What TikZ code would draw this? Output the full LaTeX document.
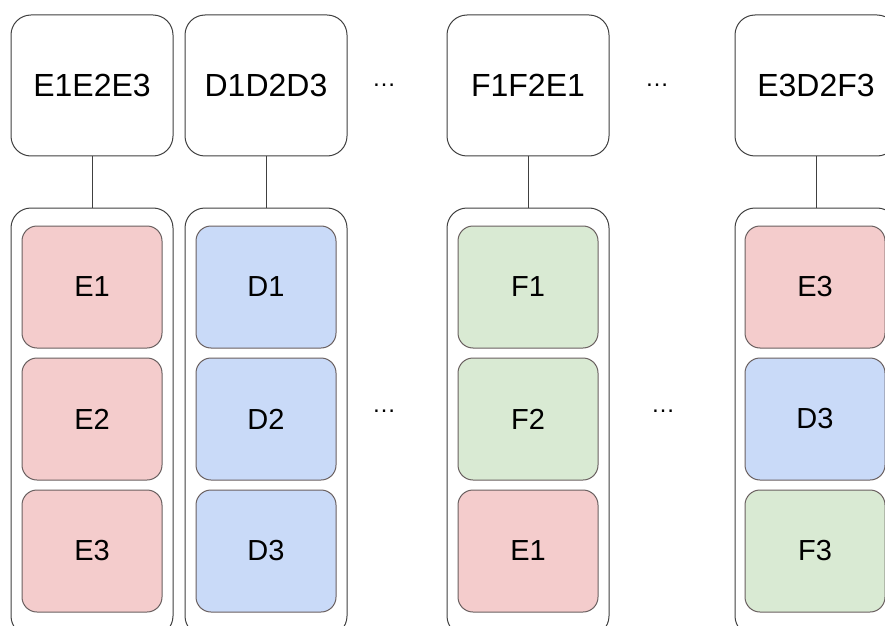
\documentclass[tikz,border=0pt]{standalone}
\usepackage{fontspec}
\setmainfont{Liberation Sans}
\usepackage{tikz}
\usetikzlibrary{positioning}
\definecolor{edgegray}{HTML}{404040}
\definecolor{celledge}{HTML}{6A6060}
\definecolor{cellred}{HTML}{F4CCCC}
\definecolor{cellblue}{HTML}{C9DAF8}
\definecolor{cellgreen}{HTML}{D9EAD3}
\tikzset{
  keynode/.style={draw=edgegray,line width=1pt,fill=white,rounded corners=20pt,minimum width=162pt,minimum height=141pt,font=\fontsize{32}{36}\selectfont},
  groupnode/.style={draw=edgegray,line width=1pt,fill=white,rounded corners=20pt,minimum width=162pt,minimum height=428pt},
  cellnode/.style={draw=celledge,line width=1pt,rounded corners=15pt,minimum width=140pt,minimum height=122pt,font=\fontsize{29}{33}\selectfont},
  dotsnode/.style={font=\fontsize{24}{26}\selectfont,inner sep=0pt}
}

\begin{document}
\begin{tikzpicture}[x=1pt,y=1pt]
	\useasboundingbox (0,0) rectangle (885,625);
	% keys
	\node[keynode] (K1) at (92,539.5) {E1E2E3};
	\node[keynode] (K2) at (266,539.5) {D1D2D3};
	\node[keynode] (K3) at (528,539.5) {F1F2E1};
	\node[keynode] (K4) at (816,539.5) {E3D2F3};
	% groups
	\node[groupnode] (G1) at (92,203) {};
	\node[groupnode] (G2) at (266,203) {};
	\node[groupnode] (G3) at (528,203) {};
	\node[groupnode] (G4) at (816,203) {};
	%
	\path[draw=edgegray,line width=1pt]
	(K1) edge (G1)
	(K2) edge (G2)
	(K3) edge (G3)
	(K4) edge (G4);
	% cells
	\node[cellnode,fill=cellred] (E1) at (92,338) {E1};
	\node[cellnode,fill=cellred] (E2) at (92,206) {E2};
	\node[cellnode,fill=cellred] (E3) at (92,74) {E3};
	\node[cellnode,fill=cellblue] (D1) at (266,338) {D1};
	\node[cellnode,fill=cellblue] (D2) at (266,206) {D2};
	\node[cellnode,fill=cellblue] (D3) at (266,74) {D3};
	\node[cellnode,fill=cellgreen] (F1) at (528,338) {F1};
	\node[cellnode,fill=cellgreen] (F2) at (528,206) {F2};
	\node[cellnode,fill=cellred] (E1') at (528,74) {E1};
	\node[cellnode,fill=cellred] (E3') at (815,338) {E3};
	\node[cellnode,fill=cellblue] (D3') at (815,206) {D3};
	\node[cellnode,fill=cellgreen] (F3) at (815,74) {F3};
	% gaps
	\node[dotsnode] (dots1) at (384,540) {\dots};
	\node[dotsnode] (dots2) at (657,540) {\dots};
	\node[dotsnode] (dots3) at (384,214) {\dots};
	\node[dotsnode] (dots4) at (663,214) {\dots};
\end{tikzpicture}
\end{document}
